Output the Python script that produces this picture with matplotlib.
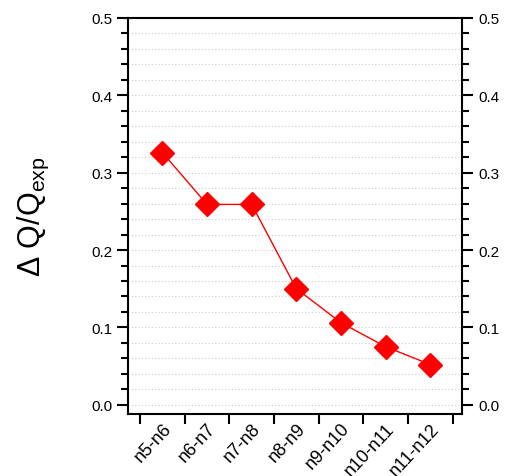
import matplotlib
matplotlib.use("Agg")
import matplotlib.pyplot as plt
import numpy as np
from matplotlib.ticker import MultipleLocator, FixedLocator

categories = ["n5-n6", "n6-n7", "n7-n8", "n8-n9", "n9-n10", "n10-n11", "n11-n12"]
values = [0.326, 0.259, 0.259, 0.150, 0.106, 0.075, 0.052]

plt.rcParams['font.family'] = ['Liberation Sans', 'DejaVu Sans']
plt.rcParams['mathtext.fontset'] = 'custom'
plt.rcParams['mathtext.rm'] = 'Liberation Sans'

fig = plt.figure(figsize=(5.17, 4.77), dpi=100)
ax = fig.add_axes([128/517, 1-415/477, (462-128)/517, (415-19)/477])

x = np.arange(len(categories))
ax.plot(x, values, color='red', lw=1, marker='D', ms=12, mec='red', mfc='red', zorder=3)

ax.set_xlim(-0.77, len(categories) - 0.29)
ax.set_ylim(-0.012, 0.5)

ax.yaxis.set_major_locator(MultipleLocator(0.1))
ax.yaxis.set_minor_locator(MultipleLocator(0.02))
ax.yaxis.set_major_formatter(matplotlib.ticker.FormatStrFormatter('%.1f'))
ax.grid(which='both', axis='y', color='#cccccc', ls=(0, (1, 2)), lw=0.8)
ax.set_axisbelow(True)

ax.xaxis.set_major_locator(FixedLocator(x))
ax.set_xticklabels(categories, rotation=47, ha='right', rotation_mode='anchor', fontsize=13)
ax.xaxis.set_minor_locator(FixedLocator(np.arange(len(categories) + 1) - 0.5))
ax.tick_params(axis='x', which='major', length=0, pad=4)
ax.tick_params(axis='x', which='minor', length=7, width=1.5, direction='out')

ax.tick_params(axis='y', which='major', length=8, width=1.5, direction='out',
               left=True, right=True, labelleft=True, labelright=True, labelsize=11)
ax.tick_params(axis='y', which='minor', length=5, width=1.5, direction='out',
               left=True, right=True)

for s in ax.spines.values():
    s.set_linewidth(1.5)

ax.set_ylabel(r'$\Delta$ Q/Q$_{\rm exp}$', fontsize=22, labelpad=29)

fig.savefig('out.png', dpi=100)
